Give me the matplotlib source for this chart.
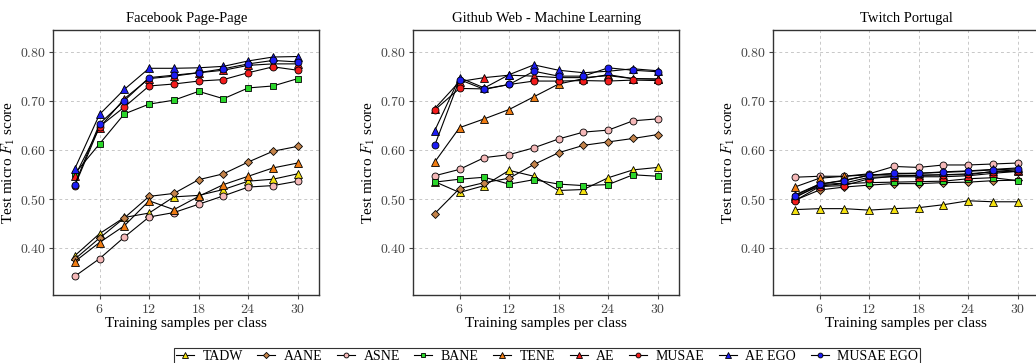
import numpy as np
import matplotlib
matplotlib.use('Agg')
from matplotlib import pyplot as plt
from matplotlib.ticker import FuncFormatter

plt.rcParams['font.family'] = ['Liberation Serif', 'DejaVu Serif']
plt.rcParams['mathtext.fontset'] = 'cm'

samples = [3, 6, 9, 12, 15, 18, 21, 24, 27, 30]
methods = ['TADW', 'AANE', 'ASNE', 'BANE', 'TENE', 'AE', 'MUSAE', 'AE EGO', 'MUSAE EGO']
titles = ['Facebook Page-Page', 'Github Web - Machine Learning', 'Twitch Portugal']

facebook = {
    'TADW':      [0.385, 0.430, 0.463, 0.472, 0.505, 0.508, 0.520, 0.537, 0.541, 0.552],
    'AANE':      [0.378, 0.421, 0.462, 0.506, 0.512, 0.540, 0.552, 0.576, 0.598, 0.608],
    'ASNE':      [0.343, 0.379, 0.423, 0.464, 0.473, 0.490, 0.507, 0.525, 0.528, 0.537],
    'BANE':      [0.552, 0.613, 0.674, 0.694, 0.702, 0.720, 0.705, 0.727, 0.731, 0.746],
    'TENE':      [0.373, 0.412, 0.446, 0.497, 0.479, 0.506, 0.530, 0.547, 0.564, 0.574],
    'AE':        [0.547, 0.646, 0.705, 0.746, 0.751, 0.758, 0.763, 0.773, 0.776, 0.776],
    'MUSAE':     [0.527, 0.648, 0.688, 0.731, 0.735, 0.741, 0.744, 0.758, 0.770, 0.763],
    'AE EGO':    [0.562, 0.673, 0.724, 0.767, 0.767, 0.768, 0.771, 0.782, 0.790, 0.791],
    'MUSAE EGO': [0.530, 0.654, 0.701, 0.748, 0.753, 0.758, 0.766, 0.776, 0.783, 0.780],
}
github = {
    'TADW':      [0.536, 0.514, 0.528, 0.559, 0.547, 0.518, 0.520, 0.544, 0.560, 0.565],
    'AANE':      [0.471, 0.522, 0.534, 0.543, 0.571, 0.595, 0.610, 0.617, 0.624, 0.632],
    'ASNE':      [0.548, 0.561, 0.585, 0.591, 0.605, 0.623, 0.637, 0.641, 0.660, 0.664],
    'BANE':      [0.535, 0.541, 0.545, 0.531, 0.540, 0.531, 0.528, 0.530, 0.550, 0.547],
    'TENE':      [0.576, 0.646, 0.664, 0.683, 0.709, 0.735, 0.746, 0.754, 0.746, 0.745],
    'AE':        [0.685, 0.740, 0.748, 0.753, 0.751, 0.748, 0.748, 0.752, 0.746, 0.745],
    'MUSAE':     [0.682, 0.726, 0.725, 0.734, 0.741, 0.741, 0.742, 0.741, 0.743, 0.742],
    'AE EGO':    [0.640, 0.748, 0.727, 0.754, 0.774, 0.763, 0.758, 0.761, 0.766, 0.762],
    'MUSAE EGO': [0.610, 0.744, 0.724, 0.734, 0.761, 0.751, 0.751, 0.768, 0.763, 0.760],
}
twitch = {
    'TADW':      [0.479, 0.481, 0.481, 0.478, 0.481, 0.483, 0.489, 0.497, 0.495, 0.495],
    'AANE':      [0.498, 0.519, 0.525, 0.529, 0.532, 0.532, 0.534, 0.535, 0.538, 0.539],
    'ASNE':      [0.545, 0.547, 0.547, 0.552, 0.567, 0.565, 0.570, 0.570, 0.572, 0.574],
    'BANE':      [0.505, 0.527, 0.532, 0.534, 0.535, 0.536, 0.537, 0.542, 0.544, 0.538],
    'TENE':      [0.525, 0.543, 0.547, 0.550, 0.549, 0.549, 0.550, 0.550, 0.557, 0.560],
    'AE':        [0.503, 0.530, 0.533, 0.545, 0.546, 0.546, 0.546, 0.548, 0.553, 0.557],
    'MUSAE':     [0.497, 0.526, 0.528, 0.542, 0.547, 0.549, 0.550, 0.552, 0.556, 0.557],
    'AE EGO':    [0.509, 0.531, 0.539, 0.549, 0.552, 0.553, 0.556, 0.558, 0.561, 0.564],
    'MUSAE EGO': [0.507, 0.531, 0.538, 0.549, 0.553, 0.553, 0.555, 0.557, 0.560, 0.562],
}
datasets = [facebook, github, twitch]

styles = {
    'TADW':      ('^', '#f5e210', 6),
    'AANE':      ('D', '#c4834a', 4.5),
    'ASNE':      ('o', '#f5b8b8', 5),
    'BANE':      ('s', '#2ad62a', 4.5),
    'TENE':      ('^', '#f07c12', 6),
    'AE':        ('^', '#f41c1c', 6),
    'MUSAE':     ('o', '#f41c1c', 5),
    'AE EGO':    ('^', '#1c1cf4', 6),
    'MUSAE EGO': ('o', '#1c1cf4', 5),
}

fig = plt.figure(figsize=(10.36, 3.63), dpi=100)
lefts = [0.0514, 0.3989, 0.7464]
fmt = FuncFormatter(lambda v, p: '$%.2f$' % v)
xfmt = FuncFormatter(lambda v, p: '$%d$' % v)

for i in range(3):
    ax = fig.add_axes([lefts[i], 0.1873, 0.2568, 0.730])
    for m in methods:
        mk, col, ms = styles[m]
        ax.plot(samples, datasets[i][m], color='black', lw=0.8, marker=mk,
                markerfacecolor=col, markeredgecolor='black', markeredgewidth=0.6,
                markersize=ms, label=m)
    ax.set_xlim(0.4, 32.6)
    ax.set_ylim(0.305, 0.845)
    ax.set_xticks([6, 12, 18, 24, 30])
    ax.set_yticks([0.4, 0.5, 0.6, 0.7, 0.8])
    ax.xaxis.set_major_formatter(xfmt)
    ax.yaxis.set_major_formatter(fmt)
    ax.tick_params(labelsize=10, colors='#444444', length=3, width=0.8, pad=2.5)
    ax.grid(True, ls=(0, (3, 3)), color='#c8c8c8', lw=0.7)
    for s in ax.spines.values():
        s.set_color('#333333')
        s.set_linewidth(1.0)
    ax.set_title(titles[i], fontsize=10.5, pad=6)
    ax.set_xlabel('Training samples per class', fontsize=11, labelpad=1)
    ax.set_ylabel('Test micro $F_1$ score', fontsize=11, labelpad=2)
    if i == 0:
        handles, labels = ax.get_legend_handles_labels()

leg = fig.legend(handles, labels, loc='lower center', ncol=9, bbox_to_anchor=(0.528, -0.025),
                 fontsize=10, frameon=True, fancybox=False, edgecolor='black',
                 handlelength=1.3, handletextpad=0.6, columnspacing=1.05, borderpad=0.15,
                 markerscale=0.7)
leg.get_frame().set_linewidth(0.8)

plt.savefig('out.png', dpi=100)
